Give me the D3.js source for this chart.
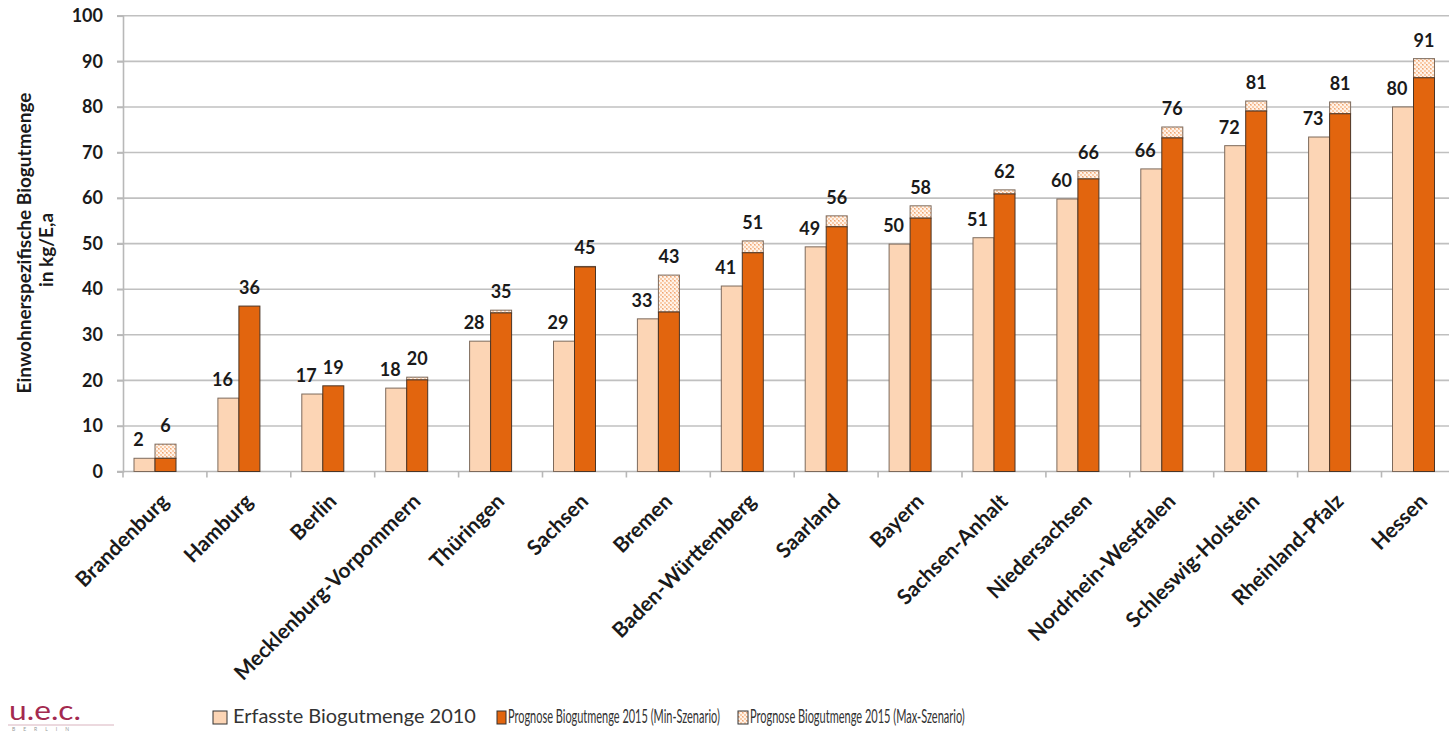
<!DOCTYPE html>
<html><head><meta charset="utf-8">
<script src="https://cdn.jsdelivr.net/npm/d3@7/dist/d3.min.js"></script>
<style>
html,body{margin:0;padding:0;background:#fff;}
svg{display:block;}
text{font-family:Lato,"Noto Sans",sans-serif;}
</style></head>
<body>
<svg id="chart" width="1449" height="731"></svg>
<script>
const categories = ["Brandenburg","Hamburg","Berlin","Mecklenburg-Vorpommern","Thüringen","Sachsen","Bremen","Baden-Württemberg","Saarland","Bayern","Sachsen-Anhalt","Niedersachsen","Nordrhein-Westfalen","Schleswig-Holstein","Rheinland-Pfalz","Hessen"];
const values2010 = [2.9, 16.1, 17.0, 18.3, 28.6, 28.6, 33.5, 40.7, 49.3, 49.9, 51.3, 59.8, 66.4, 71.5, 73.4, 80.0];
const valuesMin2015 = [2.9, 36.3, 18.8, 20.1, 34.8, 44.9, 35.0, 48.0, 53.7, 55.6, 60.9, 64.2, 73.2, 79.1, 78.5, 86.4];
const valuesMax2015 = [6.0, 36.3, 18.8, 20.7, 35.4, 45.0, 43.1, 50.6, 56.1, 58.3, 61.8, 66.0, 75.6, 81.3, 81.1, 90.6];
const labels2010 = ["2","16","17","18","28","29","33","41","49","50","51","60","66","72","73","80"];
const labelsMax2015 = ["6","36","19","20","35","45","43","51","56","58","62","66","76","81","81","91"];
const yTicks = [0,10,20,30,40,50,60,70,80,90,100];
const seriesNames = ["Erfasste Biogutmenge 2010","Prognose Biogutmenge 2015 (Min-Szenario)","Prognose Biogutmenge 2015 (Max-Szenario)"];

const svg = d3.select("#chart");
const W = 1449;
const TXT = "#1a1a1a";
const defs = svg.append("defs");
const pat = defs.append("pattern").attr("id","dots").attr("width",4).attr("height",4).attr("patternUnits","userSpaceOnUse");
pat.append("rect").attr("width",4).attr("height",4).attr("fill","#F9CDAA");
pat.append("rect").attr("x",0).attr("y",0).attr("width",2).attr("height",2).attr("fill","#FFF3EA");
pat.append("rect").attr("x",2).attr("y",2).attr("width",2).attr("height",2).attr("fill","#FFF3EA");
pat.append("rect").attr("x",2).attr("y",0).attr("width",1).attr("height",1).attr("fill","#EFA374");

const C_LIGHT = "#FCD5B5", C_DARK = "#E2650E";
const x = d3.scaleBand().domain(categories).range([123, 123 + 16*83.9]).padding(0);
const sub = d3.scaleBand().domain(["a","b"]).range([11, 53]).padding(0);
const y = d3.scaleLinear().domain([0,100]).range([471.5, 15.8]);

// gridlines
svg.append("g").selectAll("line").data(yTicks.slice(1)).join("line")
  .attr("x1",117).attr("x2",W).attr("y1",d=>y(d)).attr("y2",d=>y(d))
  .attr("stroke","#C0C0C0").attr("stroke-width",1.6);

// y axis
const ya = svg.append("g").attr("transform","translate(123,0)")
  .call(d3.axisLeft(y).tickValues(yTicks).tickSize(6).tickPadding(14));
ya.select(".domain").attr("stroke","#B8B8B8").attr("stroke-width",1.6);
ya.selectAll(".tick line").attr("stroke","#B8B8B8").attr("stroke-width",1.6);
ya.selectAll(".tick text").attr("font-family","Lato").attr("font-weight","bold").attr("font-size",18).attr("fill",TXT);

// x axis baseline and ticks
svg.append("line").attr("x1",117).attr("x2",W).attr("y1",y(0)).attr("y2",y(0)).attr("stroke","#B8B8B8").attr("stroke-width",1.6);
svg.append("g").selectAll("line").data(categories).join("line")
  .attr("x1",d=>x(d)).attr("x2",d=>x(d)).attr("y1",y(0)).attr("y2",y(0)+6)
  .attr("stroke","#B8B8B8").attr("stroke-width",1.6);

const rows = categories.map((c,i)=>({c, v10:values2010[i], vmin:valuesMin2015[i], vmax:valuesMax2015[i], l10:labels2010[i], lmax:labelsMax2015[i]}));
const g = svg.append("g");
g.selectAll("rect.l").data(rows).join("rect").attr("class","l")
  .attr("x",d=>x(d.c)+sub("a")).attr("width",sub.bandwidth())
  .attr("y",d=>y(d.v10)).attr("height",d=>y(0)-y(d.v10))
  .attr("fill",C_LIGHT).attr("stroke","#7d6a5c").attr("stroke-width",1);
g.selectAll("rect.mx").data(rows.filter(d=>d.vmax>d.vmin)).join("rect").attr("class","mx")
  .attr("x",d=>x(d.c)+sub("b")).attr("width",sub.bandwidth())
  .attr("y",d=>y(d.vmax)).attr("height",d=>y(d.vmin)-y(d.vmax))
  .attr("fill","url(#dots)").attr("stroke","#7d6a5c").attr("stroke-width",1);
g.selectAll("rect.mn").data(rows).join("rect").attr("class","mn")
  .attr("x",d=>x(d.c)+sub("b")).attr("width",sub.bandwidth())
  .attr("y",d=>y(d.vmin)).attr("height",d=>y(0)-y(d.vmin))
  .attr("fill",C_DARK).attr("stroke","#4a3526").attr("stroke-width",1);

g.selectAll("text.l10").data(rows).join("text").attr("class","l10")
  .attr("x",d=>x(d.c)+sub("a")+sub.bandwidth()/2-6).attr("y",d=>y(d.v10)-12)
  .attr("text-anchor","middle").attr("font-weight","bold").attr("font-size",18).attr("fill",TXT).text(d=>d.l10);
g.selectAll("text.lmx").data(rows).join("text").attr("class","lmx")
  .attr("x",d=>x(d.c)+sub("b")+sub.bandwidth()/2).attr("y",d=>y(d.vmax)-12)
  .attr("text-anchor","middle").attr("font-weight","bold").attr("font-size",18).attr("fill",TXT).text(d=>d.lmax);

// category labels
svg.append("g").selectAll("text").data(categories).join("text")
  .attr("transform",d=>`translate(${x(d)+x.bandwidth()/2},${y(0)+26}) rotate(-45)`)
  .attr("text-anchor","end").attr("dy","0.35em")
  .attr("font-weight","bold").attr("font-size",21).attr("fill",TXT).text(d=>d);

// y title
svg.append("text").attr("transform","translate(31,243) rotate(-90)").attr("text-anchor","middle")
  .attr("font-weight","bold").attr("font-size",19).attr("fill",TXT).text("Einwohnerspezifische Biogutmenge");
svg.append("text").attr("transform","translate(53,250) rotate(-90)").attr("text-anchor","middle")
  .attr("font-weight","bold").attr("font-size",19).attr("fill",TXT).text("in kg/E,a");

// legend
const leg = [
  {sx:213, sw:14, fill:C_LIGHT, tx:233, tl:243, name:seriesNames[0]},
  {sx:497, sw:9, fill:C_DARK, tx:508, tl:212, name:seriesNames[1]},
  {sx:738, sw:10, fill:"url(#dots)", tx:750, tl:215, name:seriesNames[2]}
];
const lg = svg.append("g");
leg.forEach(l=>{
  lg.append("rect").attr("x",l.sx).attr("y",711).attr("width",l.sw).attr("height",13)
    .attr("fill",l.fill).attr("stroke","#333").attr("stroke-width",1);
  const t = lg.append("text").attr("x",0).attr("y",0).attr("font-size",19).attr("fill","#333").text(l.name);
  const w = t.node().getComputedTextLength();
  t.attr("transform",`translate(${l.tx},723) scale(${l.tl/w},1)`);
});

// logo
svg.append("text").attr("x",9).attr("y",720).attr("font-size",27).attr("fill","#A3294F")
  .attr("textLength",72).attr("lengthAdjust","spacingAndGlyphs").text("u.e.c.");
svg.append("line").attr("x1",8).attr("x2",114).attr("y1",725).attr("y2",725).attr("stroke","#D9B3BE").attr("stroke-width",1);
svg.append("text").attr("x",12).attr("y",731).attr("font-size",5).attr("fill","#999")
  .attr("letter-spacing","8").text("BERLIN");
</script>
</body></html>
